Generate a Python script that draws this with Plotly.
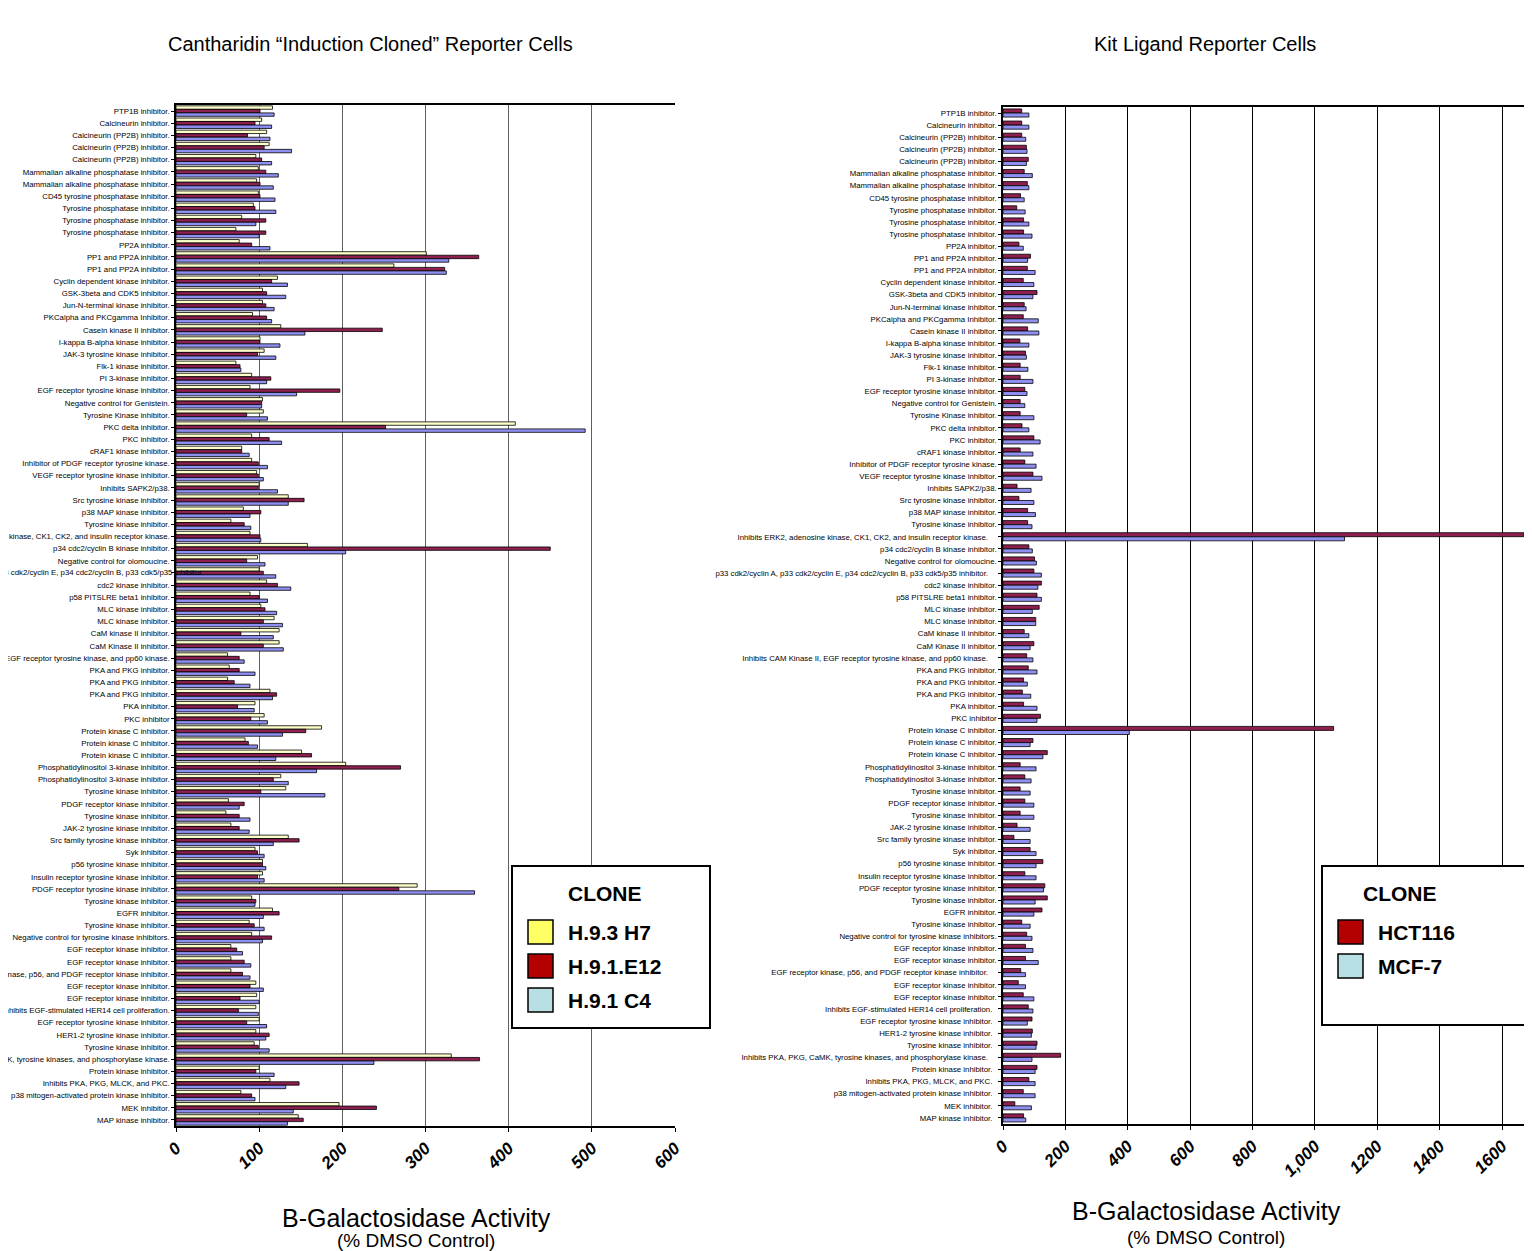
import plotly.graph_objects as go

# the page body adds an 8px margin, so the figure is 8px smaller than the window
OFF = 8
W, H = 1532 - OFF, 1251 - OFF

# ---------------- data ----------------
left_labels = [
    "PTP1B inhibitor.", "Calcineurin inhibitor.", "Calcineurin (PP2B) inhibitor.", "Calcineurin (PP2B) inhibitor.",
    "Calcineurin (PP2B) inhibitor.", "Mammalian alkaline phosphatase inhibitor.", "Mammalian alkaline phosphatase inhibitor.",
    "CD45 tyrosine phosphatase inhibitor.", "Tyrosine phosphatase inhibitor.", "Tyrosine phosphatase inhibitor.",
    "Tyrosine phosphatase inhibitor.", "PP2A inhibitor.", "PP1 and PP2A inhibitor.", "PP1 and PP2A inhibitor.",
    "Cyclin dependent kinase inhibitor.", "GSK-3beta and CDK5 inhibitor.", "Jun-N-terminal kinase inhibitor.",
    "PKCalpha and PKCgamma Inhibitor.", "Casein kinase II inhibitor.", "I-kappa B-alpha kinase inhibitor.",
    "JAK-3 tyrosine kinase inhibitor.", "Flk-1 kinase inhibitor.", "PI 3-kinase inhibitor.",
    "EGF receptor tyrosine kinase inhibitor.", "Negative control for Genistein.", "Tyrosine Kinase inhibitor.",
    "PKC delta inhibitor.", "PKC inhibitor.", "cRAF1 kinase inhibitor.", "Inhibitor of PDGF receptor tyrosine kinase.",
    "VEGF receptor tyrosine kinase inhibitor.", "Inhibits SAPK2/p38.", "Src tyrosine kinase inhibitor.",
    "p38 MAP kinase inhibitor.", "Tyrosine kinase inhibitor.",
    "Inhibits ERK2, adenosine kinase, CK1, CK2, and insulin receptor kinase.",
    "p34 cdc2/cyclin B kinase inhibitor.", "Negative control for olomoucine.",
    "",  # p33 label drawn as annotation (overlaps bars in the original)
    "cdc2 kinase inhibitor.", "p58 PITSLRE beta1 inhibitor.", "MLC kinase inhibitor.", "MLC kinase inhibitor.",
    "CaM kinase II inhibitor.", "CaM Kinase II inhibitor.",
    "Inhibits CAM Kinase II, EGF receptor tyrosine kinase, and pp60 kinase.",
    "PKA and PKG inhibitor.", "PKA and PKG inhibitor.", "PKA and PKG inhibitor.", "PKA inhibitor.", "PKC inhibitor",
    "Protein kinase C inhibitor.", "Protein kinase C inhibitor.", "Protein kinase C inhibitor.",
    "Phosphatidylinositol 3-kinase inhibitor.", "Phosphatidylinositol 3-kinase inhibitor.",
    "Tyrosine kinase inhibitor.", "PDGF receptor kinase inhibitor.", "Tyrosine kinase inhibitor.",
    "JAK-2 tyrosine kinase inhibitor.", "Src family tyrosine kinase inhibitor.", "Syk inhibitor.",
    "p56 tyrosine kinase inhibitor.", "Insulin receptor tyrosine kinase inhibitor.",
    "PDGF receptor tyrosine kinase inhibitor.", "Tyrosine kinase inhibitor.", "EGFR inhibitor.",
    "Tyrosine kinase inhibitor.", "Negative control for tyrosine kinase inhibitors.",
    "EGF receptor kinase inhibitor.", "EGF receptor kinase inhibitor.",
    "EGF receptor kinase, p56, and PDGF receptor kinase inhibitor.", "EGF receptor kinase inhibitor.",
    "EGF receptor kinase inhibitor.", "Inhibits EGF-stimulated HER14 cell proliferation.",
    "EGF receptor tyrosine kinase inhibitor.", "HER1-2 tyrosine kinase inhibitor.", "Tyrosine kinase inhibitor.",
    "Inhibits PKA, PKG, CaMK, tyrosine kinases, and phosphorylase kinase.", "Protein kinase inhibitor.",
    "Inhibits PKA, PKG, MLCK, and PKC.", "p38 mitogen-activated protein kinase inhibitor.", "MEK inhibitor.",
    "MAP kinase inhibitor.",
]
left_overlap_label = "p33 cdk2/cyclin A, p33 cdk2/cyclin E, p34 cdc2/cyclin B, p33 cdk5/p35 inhibitor."

right_labels = [
    "PTP1B inhibitor.", "Calcineurin inhibitor.", "Calcineurin (PP2B) inhibitor.", "Calcineurin (PP2B) inhibitor.",
    "Calcineurin (PP2B) inhibitor.", "Mammalian alkaline phosphatase inhibitor.", "Mammalian alkaline phosphatase inhibitor.",
    "CD45 tyrosine phosphatase inhibitor.", "Tyrosine phosphatase inhibitor.", "Tyrosine phosphatase inhibitor.",
    "Tyrosine phosphatase inhibitor.", "PP2A inhibitor.", "PP1 and PP2A inhibitor.", "PP1 and PP2A inhibitor.",
    "Cyclin dependent kinase inhibitor.", "GSK-3beta and CDK5 inhibitor.", "Jun-N-terminal kinase inhibitor.",
    "PKCalpha and PKCgamma Inhibitor.", "Casein kinase II inhibitor.", "I-kappa B-alpha kinase inhibitor.",
    "JAK-3 tyrosine kinase inhibitor.", "Flk-1 kinase inhibitor.", "PI 3-kinase inhibitor.",
    "EGF receptor tyrosine kinase inhibitor.", "Negative control for Genistein.", "Tyrosine Kinase inhibitor.",
    "PKC delta inhibitor.", "PKC inhibitor.", "cRAF1 kinase inhibitor.", "Inhibitor of PDGF receptor tyrosine kinase.",
    "VEGF receptor tyrosine kinase inhibitor.", "Inhibits SAPK2/p38.", "Src tyrosine kinase inhibitor.",
    "p38 MAP kinase inhibitor.", "Tyrosine kinase inhibitor.",
    "Inhibits ERK2, adenosine kinase, CK1, CK2, and insulin receptor kinase.    ",
    "p34 cdc2/cyclin B kinase inhibitor.", "Negative control for olomoucine.",
    "p33 cdk2/cyclin A, p33 cdk2/cyclin E, p34 cdc2/cyclin B, p33 cdk5/p35 inhibitor.    ",
    "cdc2 kinase inhibitor.", "p58 PITSLRE beta1 inhibitor.", "MLC kinase inhibitor.", "MLC kinase inhibitor.",
    "CaM kinase II inhibitor.", "CaM Kinase II inhibitor.",
    "Inhibits CAM Kinase II, EGF receptor tyrosine kinase, and pp60 kinase.    ",
    "PKA and PKG inhibitor.", "PKA and PKG inhibitor.", "PKA and PKG inhibitor.", "PKA inhibitor.", "PKC inhibitor",
    "Protein kinase C inhibitor.", "Protein kinase C inhibitor.", "Protein kinase C inhibitor.",
    "Phosphatidylinositol 3-kinase inhibitor.", "Phosphatidylinositol 3-kinase inhibitor.",
    "Tyrosine kinase inhibitor.", "PDGF receptor kinase inhibitor.", "Tyrosine kinase inhibitor.",
    "JAK-2 tyrosine kinase inhibitor.", "Src family tyrosine kinase inhibitor.", "Syk inhibitor.",
    "p56 tyrosine kinase inhibitor.", "Insulin receptor tyrosine kinase inhibitor.",
    "PDGF receptor tyrosine kinase inhibitor.", "Tyrosine kinase inhibitor.", "EGFR inhibitor.",
    "Tyrosine kinase inhibitor.", "Negative control for tyrosine kinase inhibitors.",
    "EGF receptor kinase inhibitor.", "EGF receptor kinase inhibitor.",
    "EGF receptor kinase, p56, and PDGF receptor kinase inhibitor.    ", "EGF receptor kinase inhibitor.",
    "EGF receptor kinase inhibitor.", "Inhibits EGF-stimulated HER14 cell proliferation.  ",
    "EGF receptor tyrosine kinase inhibitor.  ", "HER1-2 tyrosine kinase inhibitor.  ", "Tyrosine kinase inhibitor.  ",
    "Inhibits PKA, PKG, CaMK, tyrosine kinases, and phosphorylase kinase.    ", "Protein kinase inhibitor.  ",
    "Inhibits PKA, PKG, MLCK, and PKC.  ", "p38 mitogen-activated protein kinase inhibitor.  ", "MEK inhibitor.  ",
    "MAP kinase inhibitor.  ",
]

h93_h7 = [116, 103, 109, 112, 96, 99, 97, 99, 93, 79, 72, 76, 301, 262, 122, 104, 104, 92, 126, 101,
          106, 72, 91, 89, 104, 105, 408, 91, 79, 91, 97, 100, 135, 81, 66, 89, 158, 98, 100, 109,
          89, 102, 118, 124, 124, 62, 64, 62, 113, 95, 106, 175, 83, 151, 204, 126, 132, 63, 60, 66,
          135, 95, 104, 104, 290, 91, 116, 88, 91, 66, 66, 66, 96, 97, 96, 100, 96, 94, 331, 100,
          113, 78, 196, 147]
h91_e12 = [101, 95, 86, 106, 103, 108, 101, 101, 95, 108, 108, 91, 364, 323, 115, 109, 108, 109, 248, 101,
           98, 77, 114, 197, 103, 85, 252, 112, 79, 99, 99, 99, 154, 102, 82, 101, 450, 85, 105, 122,
           100, 107, 105, 78, 105, 76, 76, 70, 121, 74, 90, 156, 87, 163, 270, 117, 102, 82, 76, 76,
           148, 98, 104, 98, 268, 96, 124, 94, 115, 73, 82, 80, 89, 77, 75, 85, 112, 99, 365, 96,
           148, 91, 241, 153]
h91_c4 = [118, 115, 113, 139, 115, 123, 117, 119, 120, 96, 100, 113, 328, 325, 134, 132, 118, 115, 155, 125,
          120, 78, 109, 145, 103, 110, 492, 127, 88, 110, 105, 122, 135, 89, 90, 102, 204, 107, 120, 138,
          110, 121, 128, 117, 129, 82, 95, 89, 116, 94, 110, 128, 98, 120, 169, 135, 179, 76, 89, 88,
          117, 106, 108, 106, 359, 95, 105, 106, 104, 80, 90, 89, 105, 100, 99, 109, 108, 112, 238, 118,
          132, 95, 141, 134]

hct116 = [60, 60, 60, 75, 81, 68, 78, 56, 44, 66, 66, 51, 88, 78, 65, 109, 68, 65, 79, 54,
          72, 55, 55, 70, 55, 55, 61, 99, 55, 70, 96, 45, 51, 79, 79, 1670, 83, 101, 99, 123,
          109, 116, 105, 68, 99, 76, 81, 66, 62, 66, 120, 1060, 96, 142, 55, 70, 55, 70, 55, 45,
          35, 87, 128, 70, 134, 142, 125, 60, 76, 72, 72, 57, 49, 65, 81, 93, 94, 109, 185, 109,
          83, 65, 38, 66]
mcf7 = [83, 83, 73, 77, 75, 94, 83, 68, 71, 83, 93, 65, 79, 103, 99, 96, 74, 113, 115, 83,
        75, 80, 96, 77, 70, 99, 83, 119, 96, 106, 125, 90, 99, 104, 93, 1095, 94, 107, 123, 112,
        123, 94, 105, 83, 87, 96, 109, 78, 89, 109, 109, 405, 87, 128, 106, 90, 87, 99, 99, 87,
        87, 106, 106, 106, 130, 103, 99, 87, 93, 96, 113, 72, 72, 99, 96, 78, 91, 106, 93, 103,
        103, 103, 91, 73]

left_ticks = [0, 100, 200, 300, 400, 500, 600]
right_ticks = [0, 200, 400, 600, 800, 1000, 1200, 1400, 1600]
right_ticktext = ["0", "200", "400", "600", "800", "1,000", "1200", "1400", "1600"]

# ---------------- styling ----------------
FONT = "Liberation Sans, Arial, sans-serif"
bar_yellow, bar_red, bar_blue = "#ffffcc", "#8e1f4f", "#8f8ff2"
leg_yellow, leg_red, leg_blue = "#ffff66", "#b30000", "#b8e0e4"

def px_x(p):
    return (p - OFF) / W

def px_y(p):
    return 1 - (p - OFF) / H

idx_l = list(range(len(left_labels)))
idx_r = list(range(len(right_labels)))

fig = go.Figure()
line = dict(color="black", width=0.8)
for vals, col, off in [(h93_h7, bar_yellow, -0.43), (h91_e12, bar_red, -0.14), (h91_c4, bar_blue, 0.15)]:
    fig.add_trace(go.Bar(x=vals, y=idx_l, orientation="h", xaxis="x", yaxis="y",
                         width=0.28, offset=off, marker=dict(color=col, line=line),
                         showlegend=False, hoverinfo="x"))
for vals, col, off in [(hct116, bar_red, -0.34), (mcf7, bar_blue, 0.0)]:
    fig.add_trace(go.Bar(x=vals, y=idx_r, orientation="h", xaxis="x2", yaxis="y2",
                         width=0.33, offset=off, marker=dict(color=col, line=line),
                         showlegend=False, hoverinfo="x"))

xtickfont = dict(family=FONT, size=17, color="black", weight="bold", style="italic")
ytickfont = dict(family=FONT, size=7.8, color="black")

fig.update_layout(
    width=W, height=H,
    margin=dict(l=0, r=0, t=0, b=0, autoexpand=False),
    paper_bgcolor="white", plot_bgcolor="white",
    barmode="group",
    xaxis=dict(domain=[px_x(176), px_x(675)], range=[0, 600], tickvals=left_ticks, automargin=False,
               tickangle=-45, tickfont=xtickfont, showgrid=True, gridcolor="#606060", gridwidth=1,
               showline=True, linecolor="black", linewidth=1.5, mirror=True, zeroline=False,
               ticks="outside", ticklen=4, tickcolor="black", anchor="y"),
    yaxis=dict(domain=[px_y(1126), px_y(105)], range=[len(left_labels) - 0.5, -0.5], automargin=False,
               tickvals=idx_l, ticktext=left_labels, tickfont=ytickfont, showgrid=False,
               showline=True, linecolor="black", linewidth=1.5, ticks="outside", ticklen=3,
               tickcolor="black", zeroline=False, anchor="x"),
    xaxis2=dict(domain=[px_x(1003), 1.0], range=[0, 1696], tickvals=right_ticks, ticktext=right_ticktext,
                automargin=False,
                tickangle=-45, tickfont=xtickfont, showgrid=True, gridcolor="black", gridwidth=1,
                showline=True, linecolor="black", linewidth=1.5, mirror=True, zeroline=False,
                ticks="outside", ticklen=4, tickcolor="black", anchor="y2"),
    yaxis2=dict(domain=[px_y(1124), px_y(107)], range=[len(right_labels) - 0.5, -0.5], automargin=False,
                tickvals=idx_r, ticktext=right_labels, tickfont=ytickfont, showgrid=False,
                showline=True, linecolor="black", linewidth=1.5, ticks="outside", ticklen=3,
                tickcolor="black", zeroline=False, anchor="x2"),
)

ann = []
# overlapping p33 label on the left chart
ann.append(dict(x=36, y=38, xref="x", yref="y", text=left_overlap_label, showarrow=False,
                xanchor="right", yanchor="middle", font=ytickfont))
# titles
ann.append(dict(x=px_x(370), y=px_y(44), xref="paper", yref="paper", showarrow=False,
                text="Cantharidin \u201cInduction Cloned\u201d Reporter Cells",
                font=dict(family=FONT, size=20, color="black"), xanchor="center", yanchor="middle"))
ann.append(dict(x=px_x(1205), y=px_y(44), xref="paper", yref="paper", showarrow=False,
                text="Kit Ligand Reporter Cells",
                font=dict(family=FONT, size=20, color="black"), xanchor="center", yanchor="middle"))
# axis titles
for cx, y1, y2 in [(416, 1218, 1240), (1206, 1211, 1237)]:
    ann.append(dict(x=px_x(cx), y=px_y(y1), xref="paper", yref="paper", showarrow=False,
                    text="B-Galactosidase Activity", font=dict(family=FONT, size=25, color="black"),
                    xanchor="center", yanchor="middle"))
    ann.append(dict(x=px_x(cx), y=px_y(y2), xref="paper", yref="paper", showarrow=False,
                    text="(% DMSO Control)", font=dict(family=FONT, size=19, color="black"),
                    xanchor="center", yanchor="middle"))

shapes = []
legfont = dict(family=FONT, size=21, color="black", weight="bold")

def add_legend(x0, x1, y0, y1, title_cx, entries):
    shapes.append(dict(type="rect", xref="paper", yref="paper", x0=px_x(x0), x1=px_x(x1),
                       y0=px_y(y1), y1=px_y(y0), line=dict(color="black", width=2), fillcolor="white"))
    ann.append(dict(x=px_x(title_cx), y=px_y(893), xref="paper", yref="paper", showarrow=False,
                    text="CLONE", font=legfont, xanchor="center", yanchor="middle"))
    sx = x0 + 16
    for i, (name, col) in enumerate(entries):
        cy = 932 + i * 34
        shapes.append(dict(type="rect", xref="paper", yref="paper", x0=px_x(sx), x1=px_x(sx + 25),
                           y0=px_y(cy + 12), y1=px_y(cy - 12), line=dict(color="black", width=1.5),
                           fillcolor=col))
        ann.append(dict(x=px_x(sx + 38), y=px_y(cy), xref="paper", yref="paper", showarrow=False,
                        text=name, font=legfont, xanchor="left", yanchor="middle"))

add_legend(512, 710, 866, 1028, 605, [("H.9.3 H7", leg_yellow), ("H.9.1.E12", leg_red), ("H.9.1 C4", leg_blue)])
add_legend(1322, 1540, 866, 1025, 1400, [("HCT116", leg_red), ("MCF-7", leg_blue)])

fig.update_layout(annotations=ann, shapes=shapes)
fig.write_html("out.html")
